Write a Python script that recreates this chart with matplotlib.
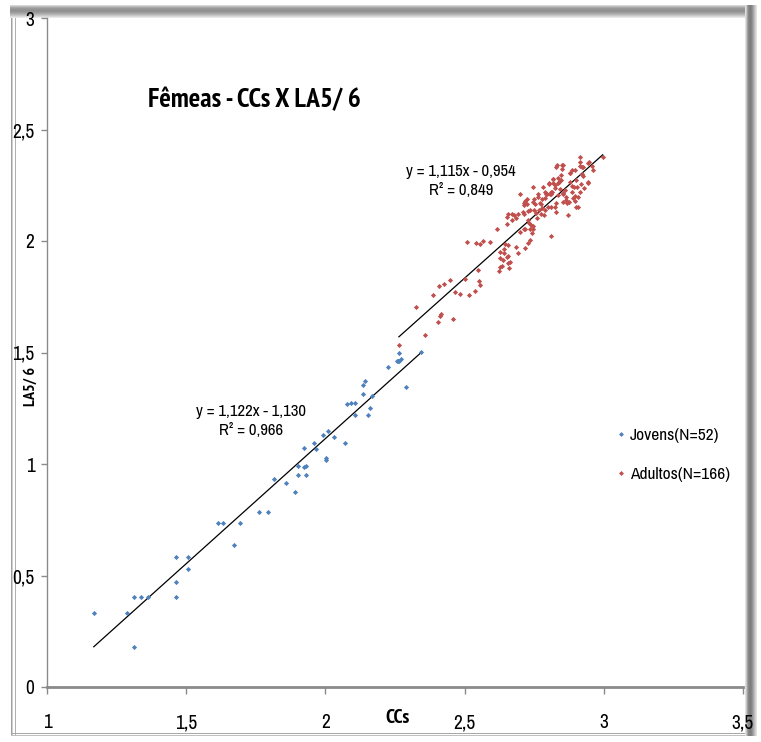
import matplotlib
matplotlib.use("Agg")
import matplotlib.pyplot as plt
from matplotlib.patches import Rectangle
from matplotlib.lines import Line2D
import numpy as np

# ---- data ----
jov_x = [1.168, 1.312, 1.287, 1.312, 1.338, 1.364, 1.462, 1.462, 1.462, 1.508,
         1.508, 1.613, 1.632, 1.695, 1.670, 1.761, 1.794, 1.816, 1.858, 1.890,
         1.902, 1.902, 1.922, 1.932, 1.931, 1.922, 1.958, 1.968, 2.002, 2.002,
         1.993, 2.008, 2.032, 2.069, 2.076, 2.092, 2.105, 2.105, 2.136, 2.134,
         2.141, 2.168, 2.159, 2.153, 2.224, 2.256, 2.264, 2.271, 2.264, 2.290,
         2.342, 2.260]
jov_y = [0.333, 0.181, 0.333, 0.402, 0.402, 0.402, 0.584, 0.469, 0.402, 0.584,
         0.527, 0.737, 0.737, 0.737, 0.638, 0.785, 0.785, 0.931, 0.916, 0.874,
         0.952, 0.990, 0.985, 0.991, 0.952, 1.073, 1.096, 1.069, 1.027, 1.016,
         1.130, 1.148, 1.120, 1.094, 1.268, 1.272, 1.272, 1.220, 1.315, 1.356,
         1.372, 1.305, 1.251, 1.221, 1.435, 1.462, 1.462, 1.472, 1.499, 1.347,
         1.504, 1.462]

adu_x = [2.264, 2.357, 2.326, 2.385, 2.407, 2.427, 2.447, 2.405, 2.412, 2.416,
         2.457, 2.467, 2.485, 2.500, 2.515, 2.538, 2.553, 2.556, 2.549, 2.510,
         2.542, 2.557, 2.566, 2.592, 2.616, 2.627, 2.625, 2.635, 2.642, 2.645,
         2.643, 2.651, 2.653, 2.656, 2.652, 2.657, 2.657, 2.659, 2.670, 2.683,
         2.677, 2.692, 2.693, 2.699, 2.708, 2.714, 2.718, 2.716, 2.718, 2.723,
         2.728, 2.731, 2.737, 2.742, 2.746, 2.749, 2.754, 2.749, 2.756, 2.759,
         2.764, 2.767, 2.773, 2.775, 2.779, 2.779, 2.784, 2.789, 2.789, 2.793,
         2.797, 2.798, 2.803, 2.806, 2.809, 2.812, 2.814, 2.819, 2.819, 2.823,
         2.826, 2.828, 2.830, 2.831, 2.834, 2.834, 2.837, 2.842, 2.846, 2.849,
         2.852, 2.853, 2.855, 2.862, 2.866, 2.865, 2.867, 2.871, 2.875, 2.880,
         2.878, 2.885, 2.885, 2.886, 2.889, 2.892, 2.896, 2.898, 2.901, 2.903,
         2.907, 2.909, 2.914, 2.913, 2.915, 2.916, 2.918, 2.921, 2.924, 2.926,
         2.942, 2.943, 2.944, 2.957, 2.947, 2.996, 2.930, 2.849, 2.809, 2.852,
         2.828, 2.896, 2.878, 2.920, 2.962, 2.845, 2.816, 2.840, 2.804, 2.824,
         2.780, 2.747, 2.639, 2.812, 2.663, 2.765, 2.627, 2.699, 2.723, 2.747,
         2.771, 2.657, 2.714, 2.735, 2.901, 2.735, 2.789, 2.713, 2.726, 2.747,
         2.671, 2.713, 2.735, 2.729, 2.685, 2.627]
adu_y = [1.535, 1.577, 1.704, 1.756, 1.800, 1.805, 1.825, 1.637, 1.665, 1.674,
         1.650, 1.771, 1.762, 1.830, 1.756, 1.777, 1.822, 1.804, 1.870, 1.994,
         1.992, 1.987, 1.999, 1.994, 2.055, 1.922, 1.865, 1.888, 1.965, 1.987,
         1.944, 1.929, 2.107, 2.120, 2.074, 1.931, 1.903, 1.880, 2.094, 2.101,
         2.116, 2.120, 1.944, 2.213, 2.128, 2.052, 2.052, 1.970, 2.180, 2.166,
         2.134, 2.079, 2.073, 2.034, 2.056, 2.188, 2.164, 2.138, 2.124, 2.101,
         2.196, 2.138, 2.166, 2.120, 2.188, 2.146, 2.116, 2.191, 2.221, 2.211,
         2.213, 2.154, 2.254, 2.213, 2.209, 2.154, 2.218, 2.276, 2.258, 2.151,
         2.236, 2.169, 2.132, 2.339, 2.206, 2.281, 2.258, 2.233, 2.273, 2.339,
         2.173, 2.209, 2.216, 2.229, 2.199, 2.184, 2.170, 2.117, 2.176, 2.303,
         2.264, 2.318, 2.246, 2.221, 2.194, 2.243, 2.202, 2.179, 2.273, 2.243,
         2.154, 2.199, 2.375, 2.353, 2.335, 2.221, 2.257, 2.300, 2.333, 2.291,
         2.263, 2.258, 2.348, 2.336, 2.356, 2.375, 2.236, 2.325, 2.024, 2.341,
         2.333, 2.318, 2.306, 2.333, 2.320, 2.296, 2.276, 2.266, 2.258, 2.251,
         2.241, 2.241, 1.915, 2.221, 1.907, 2.213, 1.885, 2.042, 2.188, 2.176,
         2.169, 1.982, 2.169, 2.004, 2.151, 2.138, 2.138, 2.123, 2.094, 2.067,
         2.119, 2.161, 2.052, 1.990, 1.975, 1.952]

jov_fit = (1.122, -1.130)
adu_fit = (1.115, -0.954)
jov_label = "Jovens(N=52)"
adu_label = "Adultos(N=166)"
jov_eq = "y = 1,122x - 1,130\nR² = 0,966"
adu_eq = "y = 1,115x - 0,954\nR² = 0,849"

x_ticks = [1, 1.5, 2, 2.5, 3, 3.5]
x_tick_labels = ["1", "1,5", "2", "2,5", "3", "3,5"]
y_ticks = [0, 0.5, 1, 1.5, 2, 2.5, 3]
y_tick_labels = ["0", "0,5", "1", "1,5", "2", "2,5", "3"]

W, H = 761, 742
narrow = ['Arial Narrow', 'Liberation Sans Narrow', 'Archivo Narrow',
          'PT Sans Narrow', 'Roboto Condensed', 'Liberation Sans', 'DejaVu Sans']
narrow_bold = ['PT Sans Narrow', 'Fjalla One', 'Liberation Sans', 'DejaVu Sans']
plt.rcParams['font.family'] = narrow

fig = plt.figure(figsize=(W / 100, H / 100), dpi=100)
fig.patch.set_facecolor('white')


def fx(px):
    return px / W


def fy(py):
    return (H - py) / H


ax = fig.add_axes([fx(47), fy(687), (743 - 47) / W, (687 - 18) / H])
ax.set_facecolor('none')
ax.set_xlim(1, 3.5)
ax.set_ylim(0, 3)

ax.scatter(jov_x, jov_y, marker='D', s=7, color='#4F81BD', linewidths=0, zorder=3)
ax.scatter(adu_x, adu_y, marker='D', s=7, color='#C0504D', linewidths=0, zorder=3)

# trend lines over each group's range
for xs, (m, b) in ((jov_x, jov_fit), (adu_x, adu_fit)):
    xx = np.array([min(xs), max(xs)])
    ax.plot(xx, m * xx + b, color='black', lw=0.9, zorder=2)

for sp in ('top', 'right'):
    ax.spines[sp].set_visible(False)
ax.spines['left'].set_color('#8a8a8a')
ax.spines['left'].set_linewidth(1.0)
ax.spines['bottom'].set_color('#8a8a8a')
ax.spines['bottom'].set_linewidth(2.0)

ax.set_xticks(x_ticks)
ax.set_xticklabels(x_tick_labels)
ax.set_yticks(y_ticks)
ax.set_yticklabels(y_tick_labels)
ax.tick_params(axis='x', direction='out', length=5, width=1, color='#8a8a8a',
               pad=14, labelsize=14)
ax.tick_params(axis='y', direction='out', length=4, width=1, color='#8a8a8a',
               pad=5, labelsize=14)

fig.text(fx(398), fy(718), "CCs", ha='center', va='center', fontsize=14,
         fontweight='bold', family=narrow_bold)
fig.text(fx(31), fy(386), "LA5/ 6", ha='center', va='center', fontsize=11.5,
         fontweight='bold', rotation=90, family=narrow_bold)
fig.text(fx(148), fy(100), "Fêmeas - CCs X LA5/ 6", ha='left', va='center',
         fontsize=19.5, fontweight='bold', family=narrow_bold)

fig.text(fx(461), fy(181), adu_eq, ha='center', va='center', fontsize=12,
         linespacing=1.3)
fig.text(fx(251), fy(421), jov_eq, ha='center', va='center', fontsize=12,
         linespacing=1.3)

handles = [Line2D([], [], ls='none', marker='D', ms=2.5, color='#4F81BD', mew=0),
           Line2D([], [], ls='none', marker='D', ms=2.5, color='#C0504D', mew=0)]
fig.legend(handles, [jov_label, adu_label], loc='upper left',
           bbox_to_anchor=(fx(609), fy(421)), frameon=False, fontsize=12.5,
           handlelength=0.6, handletextpad=0.2, labelspacing=1.35,
           borderaxespad=0)

# bevelled frame around the chart (drawn underneath the axes and texts)
top_shades = ['#d8d8d8', '#bdbdbd', '#a8a8a8', '#9a9a9a', '#949494', '#909090',
              '#939393', '#9c9c9c', '#a8a8a8', '#b6b6b6', '#c6c6c6', '#d8d8d8',
              '#e8e8e8']
for i, c in enumerate(top_shades):
    fig.add_artist(Rectangle((fx(10), fy(5 + i + 1)), (757 - 10) / W, 1 / H,
                             transform=fig.transFigure, color=c, lw=0, zorder=-1))
right_shades = ['#e0e0e0', '#c8c8c8', '#a0a0a0', '#8a8a8a', '#808080', '#7c7c7c',
                '#858585', '#959595', '#a8a8a8', '#bdbdbd', '#d0d0d0', '#e2e2e2']
for i, c in enumerate(right_shades):
    fig.add_artist(Rectangle((fx(745 + i), fy(736)), 1 / W, (736 - 5) / H,
                             transform=fig.transFigure, color=c, lw=0, zorder=-1))
for px, c in ((11, '#a0a0a0'), (12, '#d0d0d0'), (15, '#b0b0b0')):
    fig.add_artist(Rectangle((fx(px), fy(736)), 1 / W, (736 - 18) / H,
                             transform=fig.transFigure, color=c, lw=0, zorder=-1))
for py, c in ((734, '#a8a8a8'), (736, '#c0c0c0')):
    fig.add_artist(Rectangle((fx(11), fy(py)), (745 - 11) / W, 1 / H,
                             transform=fig.transFigure, color=c, lw=0, zorder=-1))

fig.savefig("out.png", dpi=100)
